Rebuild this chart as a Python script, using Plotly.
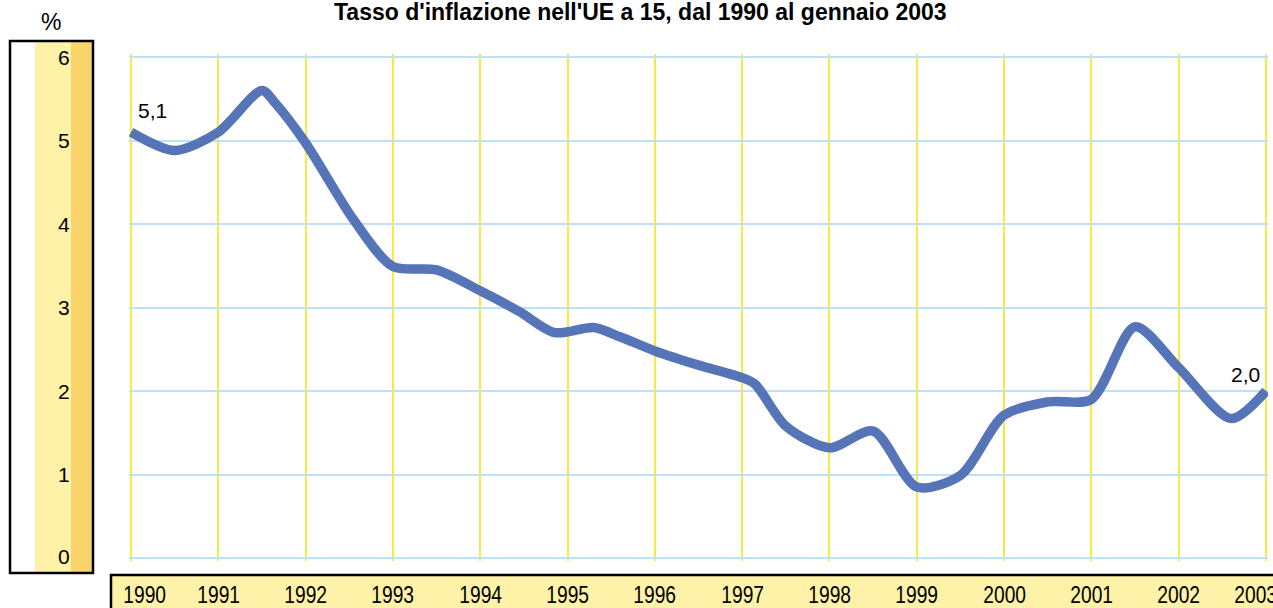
import json
import plotly.graph_objects as go

# ---- data ----
years = [1990.0, 1990.5, 1991.0, 1991.5, 1991.65, 1992.0, 1992.55, 1993.0, 1993.5,
         1994.0, 1994.45, 1994.85, 1995.3, 1995.6, 1996.0, 1996.5, 1997.0, 1997.15,
         1997.5, 1998.0, 1998.5, 1999.0, 1999.5, 2000.0, 2000.5, 2001.0, 2001.5,
         2002.0, 2002.6, 2003.0]
inflation = [5.10, 4.88, 5.10, 5.60, 5.45, 4.97, 4.05, 3.49, 3.45,
             3.20, 2.95, 2.70, 2.76, 2.65, 2.48, 2.31, 2.16, 2.08,
             1.58, 1.32, 1.52, 0.85, 0.99, 1.71, 1.87, 1.90, 2.77,
             2.28, 1.67, 2.00]
year_labels = ["1990", "1991", "1992", "1993", "1994", "1995", "1996", "1997",
               "1998", "1999", "2000", "2001", "2002", "2003"]
year_ticks = list(range(1990, 2004))
y_ticks = [0, 1, 2, 3, 4, 5, 6]
title = "Tasso d'inflazione nell'UE a 15, dal 1990 al gennaio 2003"
start_label = "5,1"
end_label = "2,0"

W, H = 1273, 608
L, R, T, B = 129, 5, 54, 47
pw = W - L - R
ph = H - T - B
x_pad = 2 / ((1266 - 131) / 13)
y_pad = 3 / ((558 - 57) / 6)


def px(xp):
    return (xp - L) / pw


def py(yp):
    return (H - B - yp) / ph


fig = go.Figure()
fig.add_trace(go.Scatter(
    x=years, y=inflation, mode="lines",
    line=dict(color="#5675b8", width=9.5, shape="spline", smoothing=0.8),
    hoverinfo="skip", showlegend=False,
))

shapes = [
    dict(type="rect", xref="paper", yref="paper", x0=px(35), x1=px(71), y0=py(573), y1=py(41),
         fillcolor="#fef1a8", line=dict(width=0), layer="below"),
    dict(type="rect", xref="paper", yref="paper", x0=px(71), x1=px(93), y0=py(573), y1=py(41),
         fillcolor="#f9d46c", line=dict(width=0), layer="below"),
    dict(type="rect", xref="paper", yref="paper", x0=px(10), x1=px(93), y0=py(573), y1=py(41),
         fillcolor="rgba(0,0,0,0)", line=dict(color="black", width=2.5)),
    dict(type="rect", xref="paper", yref="paper", x0=px(111), x1=px(1290), y0=py(620), y1=py(575),
         fillcolor="#fef1a8", line=dict(color="black", width=2.5), layer="below"),
]

annotations = [
    dict(text="<b>" + title + "</b>", xref="paper", yref="paper", x=px(640), y=py(12),
         xanchor="center", yanchor="middle", showarrow=False,
         font=dict(family="Liberation Sans, Arial", size=23, color="black")),
    dict(text="%", xref="paper", yref="paper", x=px(51), y=py(22), xanchor="center", yanchor="middle",
         showarrow=False, font=dict(family="Liberation Sans, Arial", size=23, color="black")),
    dict(text=start_label, xref="x", yref="y", x=years[0], y=inflation[0], xanchor="left", yanchor="middle",
         xshift=5, yshift=22, showarrow=False,
         font=dict(family="Liberation Sans, Arial", size=21, color="black")),
    dict(text=end_label, xref="x", yref="y", x=years[-1], y=inflation[-1], xanchor="right", yanchor="middle",
         xshift=-4, yshift=17, showarrow=False,
         font=dict(family="Liberation Sans, Arial", size=21, color="black")),
]
for v in y_ticks:
    annotations.append(dict(text=str(v), xref="paper", yref="y", x=px(72), y=v, xanchor="right",
                            yanchor="middle", showarrow=False,
                            yshift=2 if v == 0 else 0,
                            font=dict(family="Liberation Sans, Arial", size=21, color="black")))
condensed_idx = []
for yr, lab in zip(year_ticks, year_labels):
    shift = 0
    if yr == 1990:
        shift = 13
    elif yr == 2003:
        shift = -11
    condensed_idx.append(len(annotations))
    annotations.append(dict(text=lab, xref="x", yref="paper", x=yr, y=py(594), xanchor="center",
                            yanchor="middle", xshift=shift, showarrow=False,
                            font=dict(family="Liberation Sans, Arial", size=24, color="black")))

fig.update_layout(
    width=W, height=H,
    margin=dict(l=L, r=R, t=T, b=B, pad=0),
    paper_bgcolor="white", plot_bgcolor="white",
    shapes=shapes, annotations=annotations,
    xaxis=dict(range=[1990 - x_pad, 2003 + x_pad], tickvals=year_ticks, showticklabels=False, ticks="",
               showgrid=True, gridcolor="#f7ea45", gridwidth=2, zeroline=False, showline=False,
               fixedrange=True),
    yaxis=dict(range=[0 - y_pad, 6 + y_pad], tickvals=y_ticks, showticklabels=False, ticks="",
               showgrid=True, gridcolor="#bde1f6", gridwidth=2, zeroline=False, showline=False,
               fixedrange=True),
)

post = """
document.body.style.margin = '0';
document.body.style.overflow = 'hidden';
var gd = document.getElementById('{plot_id}');
var idx = %s;
gd.querySelectorAll('g.annotation').forEach(function(g) {
  if (idx.indexOf(parseInt(g.getAttribute('data-index'))) >= 0) {
    var t = g.querySelector('text');
    if (t) {
      t.style.transformBox = 'fill-box';
      t.style.transformOrigin = 'center';
      t.style.transform = 'scaleX(0.8)';
    }
  }
});
""" % json.dumps(condensed_idx)

fig.write_html("out.html", post_script=post, config={"displayModeBar": False})
